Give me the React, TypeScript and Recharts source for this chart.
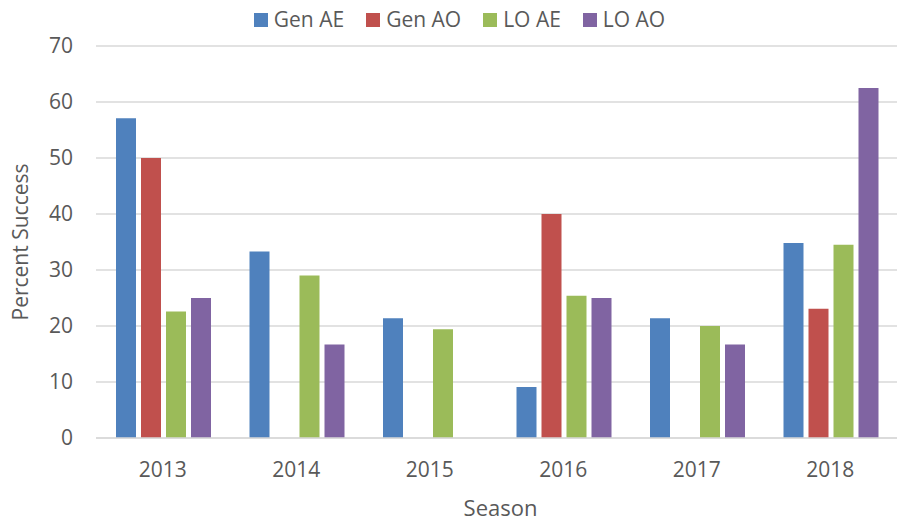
// Percent success by season, grouped bars
import React from 'react'
import {
  BarChart, Bar, XAxis, YAxis, CartesianGrid, Legend
} from 'recharts'

const seasons = ['2013', '2014', '2015', '2016', '2017', '2018']
const genAE = [57.1, 33.3, 21.4, 9.1, 21.4, 34.8]
const genAO = [50, 0, 0, 40, 0, 23.1]
const loAE = [22.6, 29, 19.4, 25.4, 20, 34.5]
const loAO = [25, 16.7, 0, 25, 16.7, 62.5]
const yTicks = [0, 10, 20, 30, 40, 50, 60, 70]

const series = [
  { key: 'Gen AE', color: '#4F81BD', values: genAE },
  { key: 'Gen AO', color: '#C0504D', values: genAO },
  { key: 'LO AE', color: '#9BBB59', values: loAE },
  { key: 'LO AO', color: '#8064A2', values: loAO }
]

const data = seasons.map((season, i) => {
  const row: { [k: string]: string | number } = { season }
  series.forEach(s => { row[s.key] = s.values[i] })
  return row
})

const textColor = '#595959'
const font = '"Open Sans", sans-serif'

const LegendContent = () => (
  <div style={{
    display: 'flex', justifyContent: 'center', alignItems: 'center',
    height: 30, paddingLeft: 22, fontFamily: font, fontSize: 21, color: textColor
  }}>
    {series.map((s, i) => (
      <div key={s.key} style={{ display: 'flex', alignItems: 'center', marginLeft: i === 0 ? 0 : 22 }}>
        <span style={{ width: 14, height: 14, background: s.color, display: 'inline-block', marginRight: 6, marginTop: 1 }} />
        <span>{s.key}</span>
      </div>
    ))}
  </div>
)

const App: React.FC = () => {
  return (
    <div style={{ position: 'absolute', left: 0, top: 0, fontFamily: font }}>
      <BarChart
        width={899}
        height={521}
        data={data}
        margin={{ top: 16, right: 2, bottom: 0, left: 0 }}
        barCategoryGap={20}
        barGap={5}
      >
        <CartesianGrid vertical={false} stroke="#D9D9D9" strokeWidth={1.5} />
        <Legend verticalAlign="top" content={<LegendContent />} wrapperStyle={{ top: 4, height: 30 }} />
        <XAxis
          dataKey="season"
          height={83}
          tickLine={false}
          tickSize={0}
          tickMargin={24}
          axisLine={{ stroke: '#D9D9D9', strokeWidth: 1.5 }}
          tick={{ fill: textColor, fontSize: 21, fontFamily: font }}
          label={{ value: 'Season', position: 'insideBottom', offset: 5, dx: 4, fill: textColor, fontSize: 22, fontFamily: font }}
        />
        <YAxis
          width={96}
          domain={[0, 70]}
          ticks={yTicks}
          tickLine={false}
          tickSize={0}
          tickMargin={23}
          axisLine={false}
          tick={{ fill: textColor, fontSize: 21, fontFamily: font }}
          label={{
            value: 'Percent Success', angle: -90, position: 'insideLeft', offset: 21,
            fill: textColor, fontSize: 21, fontFamily: font, style: { textAnchor: 'middle' }
          }}
        />
        {series.map(s => (
          <Bar key={s.key} dataKey={s.key} fill={s.color} isAnimationActive={false} />
        ))}
      </BarChart>
    </div>
  )
}

export default App
